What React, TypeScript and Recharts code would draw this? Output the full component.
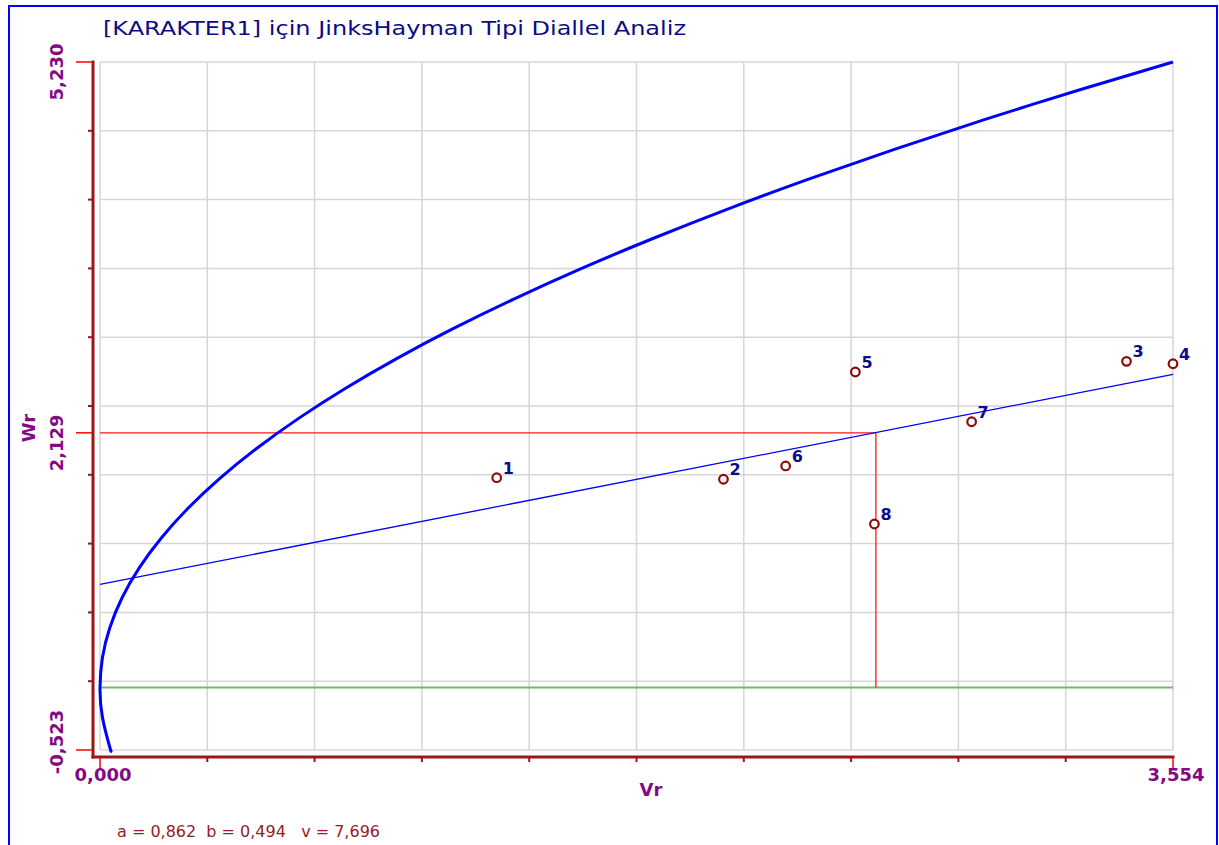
import { ComposedChart, Line, Scatter, XAxis, YAxis, ReferenceLine } from 'recharts';

// axis grid values (10 equal divisions of each range)
const xGrid = [0, 0.3554, 0.7108, 1.0662, 1.4216, 1.777, 2.1324, 2.4878, 2.8432, 3.1986, 3.554];
const yGrid = [-0.523, 0.0523, 0.6276, 1.2029, 1.7782, 2.3535, 2.9288, 3.5041, 4.0794, 4.6547, 5.23];
const xLabels = [0, 3.554];
const yLabels = [-0.523, 2.129, 5.23];

// parents (Vr, Wr)
const parents = ['1', '2', '3', '4', '5', '6', '7', '8'];
const vrValues = [1.314, 2.065, 3.4, 3.554, 2.502, 2.271, 2.887, 2.565];
const wrValues = [1.754, 1.741, 2.727, 2.707, 2.638, 1.852, 2.222, 1.367];

// limiting parabola
const parabolaWr = [-0.523, -0.5, -0.25, 0, 0.25, 0.5, 0.75, 1, 1.25, 1.5, 1.75, 2, 2.25, 2.5, 2.75, 3, 3.25, 3.5, 3.75, 4, 4.25, 4.5, 4.75, 5, 5.23];
const parabolaVr = [0.03554, 0.03248, 0.00812, 0, 0.00812, 0.03248, 0.07309, 0.12994, 0.20303, 0.29236, 0.39794, 0.51975, 0.65781, 0.81211, 0.98265, 1.16944, 1.37247, 1.59173, 1.82725, 2.079, 2.347, 2.63124, 2.93172, 3.24844, 3.554];

// regression line ends, means
const regVr = [0, 3.554];
const regWr = [0.862, 2.618];
const meanVr = 2.57;
const meanWr = 2.129;

const AXIS_RED = '#9b1616';
const PURPLE = '#850985';
const NAVY = '#0c0c86';

const fmt = (v: number) => v.toFixed(3).replace('.', ',');

const pointData = parents.map((name, i) => ({ name, vr: vrValues[i], wr: wrValues[i] }));
const parabolaData = parabolaWr.map((wr, i) => ({ vr: parabolaVr[i], wr }));
const regData = regVr.map((vr, i) => ({ vr, wr: regWr[i] }));
const meanData = [
  { vr: 0, wr: meanWr },
  { vr: meanVr, wr: meanWr },
  { vr: meanVr, wr: 0 },
];
const zeroData = [
  { vr: xGrid[0], wr: 0 },
  { vr: xGrid[xGrid.length - 1], wr: 0 },
];
const yTicks = [...yGrid, meanWr].sort((a, b) => a - b);

const YTick = (props: any) => {
  const { x, y, payload } = props;
  const v = payload.value;
  if (!yLabels.includes(v)) {
    return <line x1={x - 5} y1={y} x2={x} y2={y} stroke={AXIS_RED} strokeWidth={2} />;
  }
  const cy = v === yLabels[0] ? y - 8 : y + 10;
  return (
    <g>
      <line x1={x - 17} y1={y} x2={x - 1} y2={y} stroke="#ff0000" strokeWidth={1.5} />
      <text
        x={x - 36}
        y={cy}
        transform={`rotate(-90 ${x - 36} ${cy})`}
        textAnchor="middle"
        dy="0.36em"
        fill={PURPLE}
        fontFamily="DejaVu Sans"
        fontWeight="bold"
        fontSize={18}
      >
        {fmt(v)}
      </text>
    </g>
  );
};

const XTick = (props: any) => {
  const { x, y, payload } = props;
  const v = payload.value;
  if (!xLabels.includes(v)) {
    return <line x1={x} y1={y} x2={x} y2={y + 5} stroke={AXIS_RED} strokeWidth={2} />;
  }
  return (
    <g>
      <line x1={x} y1={y + 1} x2={x} y2={y + 12} stroke="#ff0000" strokeWidth={1.5} />
      <text x={x + 3} y={y + 24} textAnchor="middle" fill={PURPLE} fontFamily="DejaVu Sans" fontWeight="bold" fontSize={18}>
        {fmt(v)}
      </text>
    </g>
  );
};

const PointShape = (props: any) => {
  const { cx, cy, payload } = props;
  return (
    <g>
      <circle cx={cx} cy={cy} r={4.3} fill="#fff" stroke="#8b0a0a" strokeWidth={2.2} />
      <text x={cx + 6} y={cy - 4} fill={NAVY} fontFamily="DejaVu Sans" fontWeight="bold" fontSize={16}>
        {payload.name}
      </text>
    </g>
  );
};

export default function App() {
  return (
    <div style={{ position: 'absolute', left: 0, top: 0, width: 1219, height: 845, overflow: 'hidden', background: '#fff' }}>
      <div
        style={{
          position: 'absolute',
          left: 8,
          top: 5,
          width: 1210,
          height: 900,
          boxSizing: 'border-box',
          border: '2px solid #0000ff',
        }}
      />
      <svg width={1219} height={845} style={{ position: 'absolute', left: 0, top: 0 }}>
        <text x={103} y={35} fill={NAVY} fontFamily="DejaVu Sans" fontSize={20} textLength={583} lengthAdjust="spacingAndGlyphs">
          [KARAKTER1] için JinksHayman Tipi Diallel Analiz
        </text>
        <text x={29} y={428} transform="rotate(-90 29 428)" textAnchor="middle" dy="0.36em" fill={PURPLE} fontFamily="DejaVu Sans" fontWeight="bold" fontSize={18}>
          Wr
        </text>
        <text x={651} y={796} textAnchor="middle" fill={PURPLE} fontFamily="DejaVu Sans" fontWeight="bold" fontSize={18}>
          Vr
        </text>
        <text x={117} y={837} fill="#94201f" fontFamily="DejaVu Sans" fontSize={16} textLength={263} lengthAdjust="spacingAndGlyphs" style={{ whiteSpace: 'pre' }}>
          {'a = 0,862  b = 0,494   v = 7,696'}
        </text>
      </svg>
      <div style={{ position: 'absolute', left: 0, top: 0 }}>
        <ComposedChart width={1219} height={845} margin={{ top: 62, right: 46, bottom: 0, left: 0 }} style={{ overflow: 'visible' }}>
          <XAxis
            type="number"
            dataKey="vr"
            domain={[xGrid[0], xGrid[xGrid.length - 1]]}
            ticks={xGrid}
            interval={0}
            padding={{ left: 7, right: 0 }}
            height={88}
            tickSize={0}
            tickMargin={0}
            tickLine={false}
            axisLine={{ stroke: AXIS_RED, strokeWidth: 3, strokeLinecap: 'square' }}
            tick={<XTick />}
          />
          <YAxis
            type="number"
            dataKey="wr"
            domain={[yGrid[0], yGrid[yGrid.length - 1]]}
            ticks={yTicks}
            interval={0}
            padding={{ top: 0, bottom: 7 }}
            width={93}
            tickSize={0}
            tickMargin={0}
            tickLine={false}
            axisLine={{ stroke: AXIS_RED, strokeWidth: 3, strokeLinecap: 'square' }}
            tick={<YTick />}
          />
          {xGrid.map((v) => (
            <ReferenceLine
              key={`gx${v}`}
              segment={[
                { x: v, y: yGrid[0] },
                { x: v, y: yGrid[yGrid.length - 1] },
              ]}
              stroke="#d6d6d6"
              strokeWidth={1.5}
            />
          ))}
          {yGrid.map((v) => (
            <ReferenceLine
              key={`gy${v}`}
              segment={[
                { x: xGrid[0], y: v },
                { x: xGrid[xGrid.length - 1], y: v },
              ]}
              stroke="#d6d6d6"
              strokeWidth={1.5}
            />
          ))}
          <Line data={zeroData} dataKey="wr" type="linear" stroke="#6cba6c" strokeWidth={2} dot={false} activeDot={false} isAnimationActive={false} />
          <Line data={meanData} dataKey="wr" type="linear" stroke="#ff1a1a" strokeWidth={1.3} dot={false} activeDot={false} isAnimationActive={false} />
          <Line data={regData} dataKey="wr" type="linear" stroke="#0000ff" strokeWidth={1.3} dot={false} activeDot={false} isAnimationActive={false} />
          <Line data={parabolaData} dataKey="wr" type="natural" stroke="#0000ff" strokeWidth={3} dot={false} activeDot={false} isAnimationActive={false} />
          <Scatter data={pointData} dataKey="wr" shape={<PointShape />} isAnimationActive={false} />
        </ComposedChart>
      </div>
    </div>
  );
}
